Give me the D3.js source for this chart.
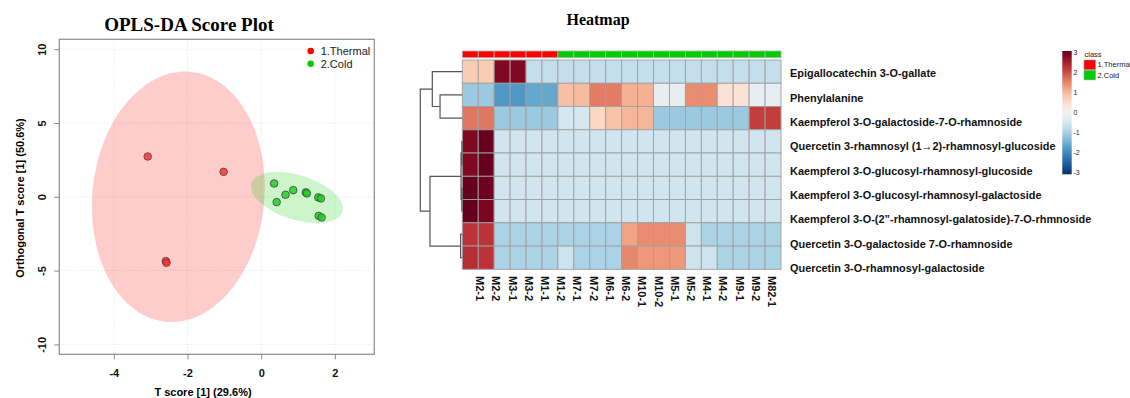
<!DOCTYPE html>
<html>
<head>
<meta charset="utf-8">
<script src="https://cdn.jsdelivr.net/npm/d3@7"></script>
<style>
  body { margin: 0; background: #fff; }
  text { font-family: "Liberation Sans", Arial, sans-serif; }
</style>
</head>
<body>
<script>
"use strict";

// ---- score plot data ----
let thermalX = [-3.08, -1.02, -2.59, -2.57];
let thermalY = [2.73, 1.69, -4.36, -4.47];
let coldX = [0.35, 0.66, 0.87, 0.42, 1.21, 1.24, 1.55, 1.62, 1.56, 1.64];
let coldY = [0.90, 0.14, 0.45, -0.36, 0.30, 0.23, -0.04, -0.11, -1.29, -1.40];
// ellipse: centre and two conjugate half-axes, data units
let thermalEllipse = [[-2.25, 0.0], [0.345, 8.46], [2.32, -0.59]];
let coldEllipse = [[0.97, -0.05], [1.235, -0.961], [-0.179, -1.435]];
let xTicks = [-4, -2, 0, 2];
let yTicks = [-10, -5, 0, 5, 10];
let groupNames = ["1.Thermal", "2.Cold"];

// ---- heatmap data ----
let compounds = [
  "Epigallocatechin 3-O-gallate",
  "Phenylalanine",
  "Kaempferol 3-O-galactoside-7-O-rhamnoside",
  "Quercetin 3-rhamnosyl (1\u21922)-rhamnosyl-glucoside",
  "Kaempferol 3-O-glucosyl-rhamnosyl-glucoside",
  "Kaempferol 3-O-glucosyl-rhamnosyl-galactoside",
  "Kaempferol 3-O-(2\u201d-rhamnosyl-galatoside)-7-O-rhmnoside",
  "Quercetin 3-O-galactoside 7-O-rhamnoside",
  "Quercetin 3-O-rhamnosyl-galactoside"
];
let sampleLabels = ["M2-1", "M2-2", "M3-1", "M3-2", "M1-1", "M1-2", "M7-1", "M7-2", "M6-1", "M6-2",
  "M10-1", "M10-2", "M5-1", "M5-2", "M4-1", "M4-2", "M9-1", "M9-2", "M82-1"];
let sampleClass = [1, 1, 1, 1, 1, 1, 2, 2, 2, 2, 2, 2, 2, 2, 2, 2, 2, 2, 2, 2];
let values = [
  [0.75, 0.75, 2.8, 2.8, -0.7, -0.7, -0.7, -0.7, -0.7, -0.7, -0.7, -0.7, -0.7, -0.7, -0.7, -0.7, -0.7, -0.7, -0.7, -0.7],
  [-1.1, -1.1, -1.75, -1.75, -1.55, -1.55, 0.9, 0.95, 1.55, 1.55, 1.05, 1.05, -0.25, -0.25, 1.4, 1.4, 0.4, 0.4, -0.25, -0.25],
  [1.6, 1.6, -1.1, -1.1, -1.1, -1.1, -0.5, -0.5, 0.6, 0.85, 1.0, 1.0, -1.1, -1.1, -1.1, -1.1, -1.1, -1.1, 2.1, 2.1],
  [2.8, 3.05, -0.55, -0.55, -0.55, -0.55, -0.55, -0.55, -0.55, -0.55, -0.55, -0.55, -0.55, -0.55, -0.55, -0.55, -0.55, -0.55, -0.55, -0.55],
  [2.8, 3.05, -0.55, -0.55, -0.55, -0.55, -0.55, -0.55, -0.55, -0.55, -0.55, -0.55, -0.55, -0.55, -0.55, -0.55, -0.55, -0.55, -0.55, -0.55],
  [3.05, 2.95, -0.55, -0.55, -0.55, -0.55, -0.55, -0.55, -0.55, -0.55, -0.55, -0.55, -0.55, -0.55, -0.55, -0.55, -0.55, -0.55, -0.55, -0.55],
  [3.05, 2.85, -0.55, -0.55, -0.55, -0.55, -0.55, -0.55, -0.55, -0.55, -0.55, -0.55, -0.55, -0.55, -0.55, -0.55, -0.55, -0.55, -0.55, -0.55],
  [2.2, 2.2, -0.95, -0.95, -0.95, -0.95, -0.95, -0.95, -0.95, -0.95, 1.2, 1.4, 1.4, 1.4, -0.6, -0.95, -0.95, -0.95, -0.95, -0.95],
  [2.25, 2.2, -0.95, -0.95, -0.95, -0.95, -0.6, -0.95, -0.95, -0.95, 1.45, 1.3, 1.3, 1.3, -0.6, -0.6, -0.95, -0.95, -0.95, -0.95]
];
// row dendrogram, leaf = row index, h = merge height
let rowTree = { h: 1.0, children: [
  { h: 0.714, children: [{ leaf: 0 }, { h: 0.53, children: [{ leaf: 1 }, { leaf: 2 }] }] },
  { h: 0.77, children: [
    { h: 0.03, children: [
      { h: 0.01, children: [{ leaf: 3 }, { leaf: 4 }] },
      { h: 0.01, children: [{ leaf: 5 }, { leaf: 6 }] }] },
    { h: 0.04, children: [{ leaf: 7 }, { leaf: 8 }] }] }
]};
let legendTicks = [3, 2, 1, 0, -1, -2, -3];

let width = 1130;
let height = 398;
let svg = d3.select("body").append("svg").attr("width", width).attr("height", height);

// ================= OPLS-DA score plot =================
let x = d3.scaleLinear().domain([-5.48, 3.07]).range([59.3, 374.3]);
let y = d3.scaleLinear().domain([-10.67, 10.67]).range([354.3, 39.3]);

let score = svg.append("g");

score.append("text").attr("x", 189).attr("y", 31).attr("text-anchor", "middle")
  .style("font-family", "'Liberation Serif', 'Times New Roman', serif")
  .style("font-weight", "bold").style("font-size", "19px").text("OPLS-DA Score Plot");

// grid
score.selectAll(".gx").data(xTicks).enter().append("line")
  .attr("x1", d => x(d)).attr("x2", d => x(d)).attr("y1", y.range()[0]).attr("y2", y.range()[1])
  .attr("stroke", "#e3e3e3").attr("stroke-dasharray", "1,2");
score.selectAll(".gy").data(yTicks).enter().append("line")
  .attr("y1", d => y(d)).attr("y2", d => y(d)).attr("x1", x.range()[0]).attr("x2", x.range()[1])
  .attr("stroke", "#e3e3e3").attr("stroke-dasharray", "1,2");

// ellipses
let ellipsePath = function (e) {
  let pts = d3.range(0, 360, 4).map(function (a) {
    let t = a * Math.PI / 180;
    return [x(e[0][0] + e[1][0] * Math.cos(t) + e[2][0] * Math.sin(t)),
            y(e[0][1] + e[1][1] * Math.cos(t) + e[2][1] * Math.sin(t))];
  });
  return d3.line().curve(d3.curveCatmullRomClosed)(pts);
};
score.append("path").attr("d", ellipsePath(thermalEllipse)).attr("fill", "#ff0000").attr("fill-opacity", 0.2);
score.append("path").attr("d", ellipsePath(coldEllipse)).attr("fill", "#00cc00").attr("fill-opacity", 0.2);

// points
score.selectAll(".pt").data(d3.zip(thermalX, thermalY)).enter().append("circle")
  .attr("cx", d => x(d[0])).attr("cy", d => y(d[1])).attr("r", 3.8)
  .attr("fill", "#ff3030").attr("fill-opacity", 0.85).attr("stroke", "#444").attr("stroke-opacity", 0.8);
score.selectAll(".pc").data(d3.zip(coldX, coldY)).enter().append("circle")
  .attr("cx", d => x(d[0])).attr("cy", d => y(d[1])).attr("r", 3.8)
  .attr("fill", "#22cc22").attr("fill-opacity", 0.85).attr("stroke", "#444").attr("stroke-opacity", 0.8);

// box
score.append("rect").attr("x", x.range()[0]).attr("y", y.range()[1])
  .attr("width", x.range()[1] - x.range()[0]).attr("height", y.range()[0] - y.range()[1])
  .attr("fill", "none").attr("stroke", "#8a8a8a").attr("stroke-width", 1.2);

// axes
let xAxis = score.append("g").attr("transform", "translate(0," + y.range()[0] + ")")
  .call(d3.axisBottom(x).tickValues(xTicks).tickSize(5).tickPadding(10));
let yAxis = score.append("g").attr("transform", "translate(" + x.range()[0] + ",0)")
  .call(d3.axisLeft(y).tickValues(yTicks).tickSize(5));
[xAxis, yAxis].forEach(function (a) {
  a.select(".domain").remove();
  a.selectAll("line").attr("stroke", "#8a8a8a");
  a.selectAll("text").style("font-weight", "bold").style("font-size", "11px").attr("fill", "#111")
    .style("font-family", "'Liberation Sans', Arial, sans-serif")
    .text(d => String(d));
});
yAxis.selectAll("text").attr("x", null).attr("dy", null)
  .attr("transform", "translate(-13,0) rotate(-90)").attr("text-anchor", "middle");

score.append("text").attr("x", 203).attr("y", 396).attr("text-anchor", "middle")
  .style("font-weight", "bold").style("font-size", "11px").text("T score [1] (29.6%)");
score.append("text").attr("transform", "translate(24,198) rotate(-90)").attr("text-anchor", "middle")
  .style("font-weight", "bold").style("font-size", "11px").text("Orthogonal T score [1] (50.6%)");

// legend
let groupColor = d3.scaleOrdinal().domain(groupNames).range(["#ff0000", "#00cc00"]);
let leg = score.selectAll(".leg").data(groupNames).enter().append("g")
  .attr("transform", (d, i) => "translate(310.7," + (51 + i * 12.7) + ")");
leg.append("circle").attr("r", 3.3).attr("fill", d => groupColor(d));
leg.append("text").attr("x", 10).attr("dy", "0.35em").style("font-size", "11px").attr("fill", "#222").text(d => d);

// ================= Heatmap =================
let hm = svg.append("g");
hm.append("text").attr("x", 598).attr("y", 25).attr("text-anchor", "middle")
  .style("font-family", "'Liberation Serif', 'Times New Roman', serif")
  .style("font-weight", "bold").style("font-size", "16px").text("Heatmap");

let cols = d3.range(values[0].length);
let cx = d3.scaleBand().domain(cols).range([462.3, 781]);
let ry = d3.scaleBand().domain(d3.range(compounds.length)).range([60, 269.3]);
let color = d3.scaleSequential(d3.interpolateRdBu).domain([3, -3]);

hm.selectAll(".cls").data(cols).enter().append("rect")
  .attr("x", d => cx(d)).attr("y", 51).attr("width", cx.bandwidth()).attr("height", 6.7)
  .attr("fill", d => groupColor(groupNames[sampleClass[d] - 1])).attr("stroke", "#b0b0b0").attr("stroke-width", 0.8);

let cells = [];
values.forEach((row, i) => row.forEach((v, j) => cells.push({ r: i, c: j, v: v })));
hm.selectAll(".cell").data(cells).enter().append("rect")
  .attr("x", d => cx(d.c)).attr("y", d => ry(d.r)).attr("width", cx.bandwidth()).attr("height", ry.bandwidth())
  .attr("fill", d => color(d.v)).attr("stroke", "#a0a0a0").attr("stroke-width", 0.9);

// row labels (narrow, like the original)
let labelY = d3.scalePoint().domain(d3.range(compounds.length)).range([73.3, 268]);
hm.append("g").attr("transform", "translate(790,0) scale(0.925,1)")
  .selectAll(".rl").data(compounds).enter().append("text")
  .attr("x", 0).attr("y", (d, i) => labelY(i)).attr("dy", "0.35em")
  .style("font-weight", "bold").style("font-size", "11.8px").attr("fill", "#111").text(d => d);

// column labels
let labelX = d3.scalePoint().domain(d3.range(sampleLabels.length)).range([480, 772]);
hm.selectAll(".cl").data(sampleLabels).enter().append("text")
  .attr("transform", (d, i) => "translate(" + labelX(i) + ",276) rotate(90)").attr("dy", "0.35em")
  .style("font-weight", "bold").style("font-size", "11px").attr("fill", "#111").text(d => d);

// dendrogram
let root = d3.hierarchy(rowTree);
let hx = d3.scaleLinear().domain([0, 1]).range([462.3, 420.3]);
root.eachAfter(function (n) {
  if (n.data.leaf !== undefined) { n.py = ry(n.data.leaf) + ry.bandwidth() / 2; n.px = hx(0); }
  else { n.py = d3.mean(n.children, c => c.py); n.px = hx(n.data.h); }
});
let dendro = hm.append("g").attr("fill", "none").attr("stroke", "#555").attr("stroke-width", 1.2);
root.descendants().filter(n => n.children).forEach(function (n) {
  let a = n.children[0], b = n.children[1];
  dendro.append("path")
    .attr("d", "M" + a.px + "," + a.py + "H" + n.px + "V" + b.py + "H" + b.px);
});

// colour legend
let defs = svg.append("defs");
let grad = defs.append("linearGradient").attr("id", "rdbu").attr("x1", 0).attr("x2", 0).attr("y1", 0).attr("y2", 1);
d3.range(0, 1.001, 0.05).forEach(t => grad.append("stop").attr("offset", t).attr("stop-color", color(3 - 6 * t)));
let ly = d3.scaleLinear().domain([3, -3]).range([53, 172.7]);
hm.append("rect").attr("x", 1062.3).attr("y", 51).attr("width", 9.4).attr("height", 123.3).attr("fill", "url(#rdbu)");
hm.selectAll(".lt").data(legendTicks).enter().append("text")
  .attr("x", 1073.5).attr("y", d => ly(d)).attr("dy", "0.35em")
  .style("font-size", "7px").attr("fill", "#222").text(d => d);

hm.append("text").attr("x", 1084.5).attr("y", 57).style("font-size", "7.5px").attr("fill", "#222").text("class");
let cl = hm.selectAll(".clg").data(groupNames).enter().append("g")
  .attr("transform", (d, i) => "translate(1084," + (60 + i * 10.3) + ")");
cl.append("rect").attr("width", 11.5).attr("height", 9.6).attr("fill", d => groupColor(d)).attr("stroke", "#999").attr("stroke-width", 0.6);
cl.append("text").attr("x", 13.5).attr("y", 4.8).attr("dy", "0.35em").style("font-size", "7.5px").attr("fill", "#222").text(d => d);
</script>
</body>
</html>
